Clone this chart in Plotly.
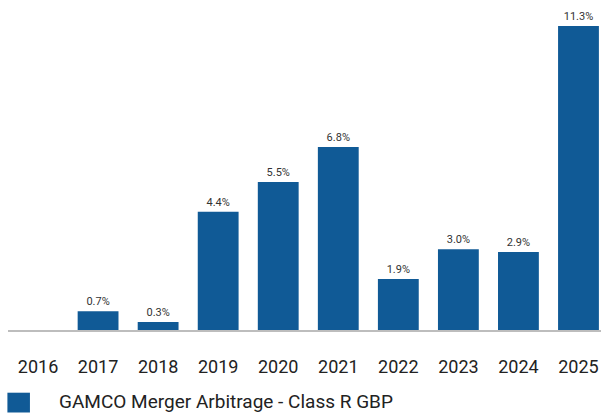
"""Calendar year returns bar chart."""
import plotly.graph_objects as go

years = ["2016", "2017", "2018", "2019", "2020", "2021", "2022", "2023", "2024", "2025"]
returns_pct = [None, 0.7, 0.3, 4.4, 5.5, 6.8, 1.9, 3.0, 2.9, 11.3]
series_name = "GAMCO Merger Arbitrage - Class R GBP"

bar_color = "#105A96"
labels = [f"{v:.1f}%" if v is not None else "" for v in returns_pct]

fig = go.Figure()
fig.add_trace(
    go.Bar(
        x=years,
        y=returns_pct,
        name=series_name,
        marker=dict(color=bar_color, line=dict(width=0)),
        text=labels,
        textposition="outside",
        textfont=dict(family="Roboto", size=11, color="#333333"),
        cliponaxis=False,
        showlegend=False,
        hoverinfo="skip",
    )
)

# legend drawn by hand so the swatch can be large
fig.add_shape(type="rect", xref="paper", yref="paper", x0=-0.001, x1=0.037, y0=-0.25, y1=-0.19,
              fillcolor=bar_color, line=dict(width=0))
fig.add_annotation(text=series_name, xref="paper", yref="paper", x=0.083, y=-0.218,
                   xanchor="left", yanchor="middle", showarrow=False,
                   font=dict(family="Roboto", size=19, color="#222222"))

fig.update_layout(
    template="none",
    width=601,
    height=413,
    margin=dict(l=8, r=0, t=0, b=83, pad=0),
    paper_bgcolor="white",
    plot_bgcolor="white",
    bargap=0.32,
    font=dict(family="Roboto"),
)
fig.update_xaxes(
    type="category",
    automargin=False,
    range=[-0.5, 9.375],
    showgrid=False,
    showline=True,
    linecolor="#BDBDBD",
    linewidth=2,
    ticks="outside",
    ticklen=19,
    tickcolor="rgba(0,0,0,0)",
    tickfont=dict(family="Roboto", size=18, color="#222222"),
)
fig.update_yaxes(range=[0, 12.27], visible=False, showgrid=False, zeroline=False, automargin=False)

# page body has a default margin; drop it so the chart sits at the window corner
fig.write_html(
    "out.html",
    config={"displayModeBar": False},
    post_script="document.body.style.margin='0';document.body.style.overflow='hidden';",
)
